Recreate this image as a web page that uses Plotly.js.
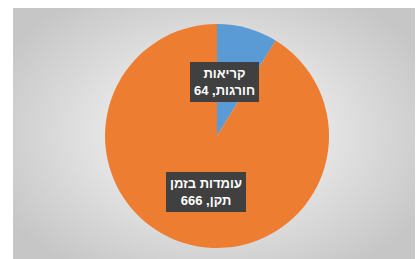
<!DOCTYPE html>
<html>
<head>
<meta charset="utf-8">
<script src="https://cdn.plot.ly/plotly-3.0.1.min.js"></script>
<style>
html,body{margin:0;padding:0;background:#fff;}
#chart{width:417px;height:259px;
background: radial-gradient(ellipse 60% 65% at 50% 50%, #ededed 0%, #e5e5e5 45%, #c6c6c6 100%) 13px 8px / 402px 251px no-repeat, #ffffff;}
</style>
</head>
<body>
<div id="chart"></div>
<script>
const categories = ["קריאות חורגות", "עומדות בזמן תקן"];
const labelLines = [["קריאות", "חורגות"], ["עומדות בזמן", "תקן"]];
const values = [64, 666];
const colors = ["#5b9bd5", "#ed7d31"];

const RLE = "\u202B", PDF = "\u202C";
function labelText(i){
  const l = labelLines[i];
  return RLE + l[0] + PDF + "<br>" + RLE + l[1] + ", " + values[i] + PDF;
}

const data = [{
  type: "pie",
  labels: categories,
  values: values,
  sort: false,
  direction: "clockwise",
  rotation: 0,
  marker: {colors: colors, line: {width: 0}},
  textinfo: "none",
  hoverinfo: "none",
  showlegend: false,
  domain: {x: [0.2518, 0.789], y: [0.0425, 0.9073]}
}];

const annPos = [[0.5384, 0.6853], [0.4952, 0.2568]];
const font = {family: "Liberation Sans, Arial, sans-serif", size: 13, color: "#ffffff", weight: "bold"};
const labels = values.map((v, i) => ({
  x: annPos[i][0], y: annPos[i][1], xref: "paper", yref: "paper",
  xanchor: "center", yanchor: "middle",
  text: labelText(i), showarrow: false, align: "center",
  font: font,
  bgcolor: "#404040", borderpad: 4, borderwidth: 0
}));

const layout = {
  width: 417, height: 259,
  margin: {l: 0, r: 0, t: 0, b: 0},
  paper_bgcolor: "rgba(0,0,0,0)",
  plot_bgcolor: "rgba(0,0,0,0)",
  showlegend: false,
  annotations: labels
};

Plotly.newPlot("chart", data, layout, {displayModeBar: false, staticPlot: true});
</script>
</body>
</html>
